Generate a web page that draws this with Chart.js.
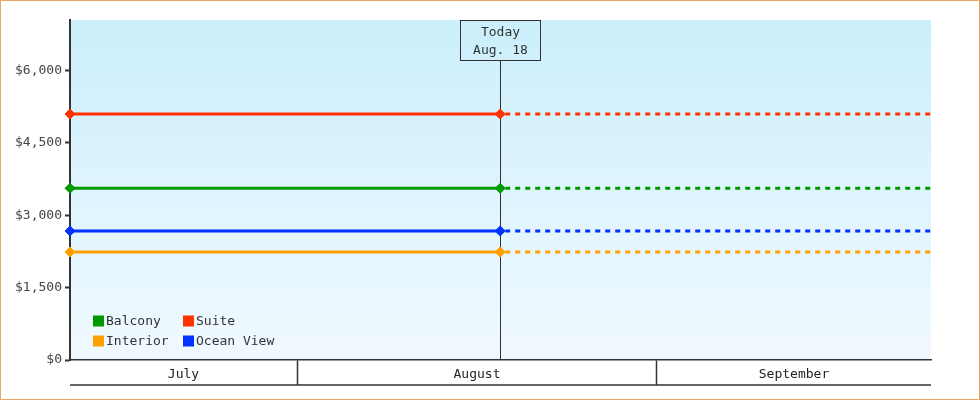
<!DOCTYPE html>
<html>
<head>
<meta charset="utf-8">
<script src="https://cdn.jsdelivr.net/npm/chart.js@4.4.1/dist/chart.umd.min.js"></script>
<style>
html,body{margin:0;padding:0;background:#fff;}
#wrap{width:980px;height:400px;position:relative;}
</style>
</head>
<body>
<div id="wrap"><canvas id="c" width="980" height="400"></canvas></div>
<script>
// ---- data ----
// x values are days counted from July 1 (July 1 = 0)
const monthNames = ['July', 'August', 'September'];
const monthStarts = [0, 31, 62, 92];
const todayDay = 48.5;              // Aug. 18
const todayLabel = ['Today', 'Aug. 18'];
const xDays = [11.45, 48.5, 85.6];  // window start, today, window end
const seriesNames = ['Balcony', 'Suite', 'Interior', 'Ocean View'];
const seriesColors = ['#009900', '#ff3300', '#ffa000', '#0033ff'];
const balcony = [3560, 3560, 3560];
const suite = [5100, 5100, 5100];
const interior = [2240, 2240, 2240];
const oceanView = [2675, 2675, 2675];
const yTicks = [0, 1500, 3000, 4500, 6000];
const yMax = 7050;

const seriesValues = [balcony, suite, interior, oceanView];
const FONT = 'DejaVu Sans Mono';

function mkData(vals) { return vals.map((v, i) => ({x: xDays[i], y: v})); }

const datasets = seriesNames.map((name, i) => ({
  label: name,
  data: mkData(seriesValues[i]),
  borderColor: seriesColors[i],
  backgroundColor: seriesColors[i],
  borderWidth: 3,
  pointStyle: 'rectRot',
  pointRadius: xDays.map(x => x <= todayDay ? 5 : 0),
  pointBorderWidth: 1,
  pointHoverRadius: 0,
  tension: 0,
  fill: false,
  clip: false,
  segment: {
    borderDash: ctx => ctx.p0.parsed.x >= todayDay ? [5, 5] : undefined,
    borderDashOffset: ctx => ctx.p0.parsed.x >= todayDay ? -5 : 0
  }
}));

const isBoundary = v => monthStarts.indexOf(v) >= 0;

const bgPlugin = {
  id: 'bg',
  beforeDraw(chart) {
    const {ctx, chartArea: a} = chart;
    ctx.save();
    ctx.fillStyle = '#ffffff';
    ctx.fillRect(0, 0, chart.width, chart.height);
    const g = ctx.createLinearGradient(0, a.top, 0, a.bottom);
    g.addColorStop(0, '#cbeffc');
    g.addColorStop(1, '#f1f9ff');
    ctx.fillStyle = g;
    ctx.fillRect(a.left, a.top, a.right - a.left, a.bottom - a.top);
    ctx.restore();
  },
  afterDraw(chart) {
    const {ctx} = chart;
    const xs = chart.scales.x;
    ctx.save();
    // bottom line of month band
    ctx.strokeStyle = '#333';
    ctx.lineWidth = 1.5;
    ctx.beginPath();
    ctx.moveTo(xs.left, xs.top + 25);
    ctx.lineTo(xs.right, xs.top + 25);
    ctx.stroke();
    // outer border
    ctx.strokeStyle = '#eaa862';
    ctx.lineWidth = 1;
    ctx.strokeRect(0.5, 0.5, chart.width - 1, chart.height - 1);
    ctx.restore();
  }
};

const todayPlugin = {
  id: 'today',
  beforeDatasetsDraw(chart) {
    const {ctx, chartArea: a} = chart;
    const px = Math.round(chart.scales.x.getPixelForValue(todayDay)) + 0.5;
    ctx.save();
    ctx.strokeStyle = '#333';
    ctx.lineWidth = 1;
    const boxTop = a.top + 0.5, boxH = 40, boxW = 80;
    ctx.beginPath();
    ctx.moveTo(px, boxTop + boxH);
    ctx.lineTo(px, a.bottom);
    ctx.stroke();
    ctx.strokeRect(px - boxW / 2, boxTop, boxW, boxH);
    ctx.fillStyle = '#333';
    ctx.font = '13px "' + FONT + '"';
    ctx.textAlign = 'center';
    ctx.textBaseline = 'middle';
    ctx.fillText(todayLabel[0], px, boxTop + 12);
    ctx.fillText(todayLabel[1], px, boxTop + 30);
    ctx.restore();
  }
};

const legendPlugin = {
  id: 'legend2',
  afterDatasetsDraw(chart) {
    const {ctx, chartArea: a} = chart;
    ctx.save();
    ctx.font = '13px "' + FONT + '"';
    ctx.textBaseline = 'middle';
    ctx.textAlign = 'left';
    chart.data.datasets.forEach((ds, i) => {
      const col = i % 2, row = Math.floor(i / 2);
      const bx = a.left + 23 + col * 90;
      const cy = a.bottom - 39.5 + row * 20;
      ctx.fillStyle = ds.borderColor;
      ctx.fillRect(bx, cy - 5, 11, 11);
      ctx.fillStyle = '#333';
      ctx.fillText(ds.label, bx + 13, cy + 1);
    });
    ctx.restore();
  }
};

new Chart(document.getElementById('c'), {
  type: 'line',
  data: {datasets},
  plugins: [bgPlugin, todayPlugin, legendPlugin],
  options: {
    responsive: false,
    animation: false,
    events: [],
    layout: {padding: {left: 0, right: 49, top: 20, bottom: 0}},
    plugins: {legend: {display: false}, tooltip: {enabled: false}},
    scales: {
      x: {
        type: 'linear',
        min: xDays[0],
        max: xDays[xDays.length - 1],
        afterBuildTicks(scale) {
          const t = [];
          const edges = [scale.min];
          monthStarts.forEach(m => { if (m > scale.min && m < scale.max) edges.push(m); });
          edges.push(scale.max);
          monthStarts.forEach(m => { if (m > scale.min && m < scale.max) t.push({value: m}); });
          for (let i = 0; i < edges.length - 1; i++) t.push({value: (edges[i] + edges[i + 1]) / 2});
          t.sort((p, q) => p.value - q.value);
          scale.ticks = t;
        },
        afterFit(scale) { scale.height = 40; },
        border: {display: true, color: '#333', width: 1.5},
        grid: {
          drawOnChartArea: false,
          drawTicks: true,
          tickLength: 25,
          tickWidth: 1.5,
          tickColor: ctx => (ctx.tick && isBoundary(ctx.tick.value)) ? '#333' : 'rgba(0,0,0,0)'
        },
        ticks: {
          autoSkip: false,
          maxRotation: 0,
          padding: -18,
          color: '#222',
          font: {family: FONT, size: 13},
          callback(value) {
            if (isBoundary(value)) return '';
            for (let i = 0; i < monthNames.length; i++) {
              if (value >= monthStarts[i] && value < monthStarts[i + 1]) return monthNames[i];
            }
            return '';
          }
        }
      },
      y: {
        min: 0,
        max: yMax,
        afterBuildTicks(scale) { scale.ticks = yTicks.map(v => ({value: v})); },
        afterFit(scale) { scale.width = 70; },
        border: {display: true, color: '#333', width: 2},
        grid: {drawOnChartArea: false, drawTicks: true, tickLength: 5, tickWidth: 2, tickColor: '#333'},
        ticks: {
          padding: 3,
          color: '#444',
          font: {family: FONT, size: 13},
          callback: v => '$' + v.toLocaleString('en-US')
        }
      }
    }
  }
});
</script>
</body>
</html>
